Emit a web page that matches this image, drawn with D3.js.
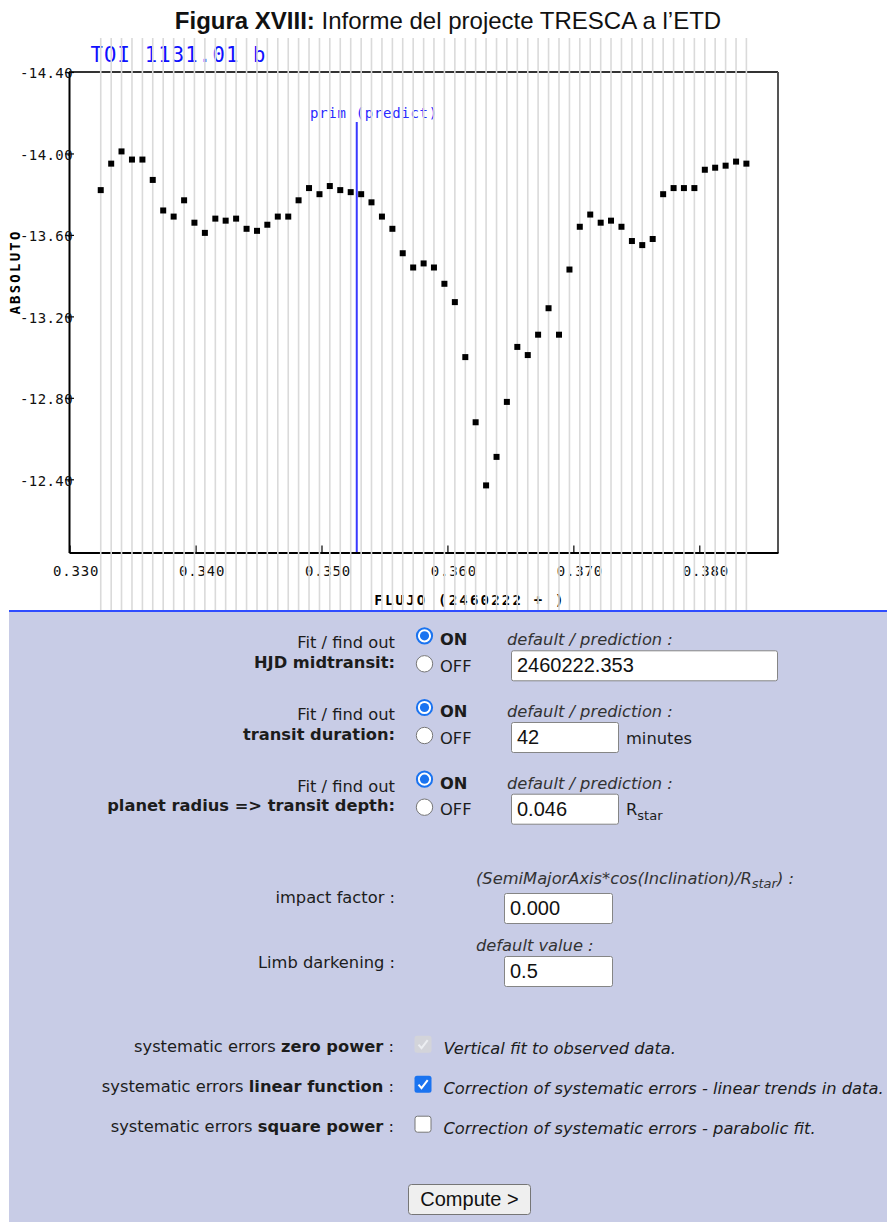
<!DOCTYPE html>
<html>
<head>
<meta charset="utf-8">
<script src="https://cdn.jsdelivr.net/npm/d3@7"></script>
<style>
  body { margin: 0; background: #fff; }
</style>
</head>
<body>
<div id="chart"></div>
<script>
// temps (HJD - 2460222) i magnitud de cada punt
const flujo = [0.33247, 0.33330, 0.33412, 0.33495, 0.33578, 0.33660, 0.33743, 0.33826, 0.33909, 0.33991,
  0.34074, 0.34157, 0.34239, 0.34322, 0.34405, 0.34488, 0.34570, 0.34653, 0.34736, 0.34818,
  0.34901, 0.34984, 0.35066, 0.35149, 0.35232, 0.35315, 0.35397, 0.35480, 0.35563, 0.35645,
  0.35728, 0.35811, 0.35893, 0.35976, 0.36059, 0.36142, 0.36224, 0.36307, 0.36390, 0.36472,
  0.36555, 0.36638, 0.36720, 0.36803, 0.36886, 0.36969, 0.37051, 0.37134, 0.37217, 0.37299,
  0.37382, 0.37465, 0.37547, 0.37630, 0.37713, 0.37796, 0.37878, 0.37961, 0.38044, 0.38126,
  0.38209, 0.38292, 0.38374];
const absoluto = [-13.82, -13.95, -14.01, -13.97, -13.97, -13.87, -13.72, -13.69, -13.77, -13.66,
  -13.61, -13.68, -13.67, -13.68, -13.63, -13.62, -13.65, -13.69, -13.69, -13.77,
  -13.83, -13.80, -13.84, -13.82, -13.81, -13.80, -13.76, -13.69, -13.63, -13.51,
  -13.44, -13.46, -13.44, -13.36, -13.27, -13.00, -12.68, -12.37, -12.51, -12.78,
  -13.05, -13.01, -13.11, -13.24, -13.11, -13.43, -13.64, -13.70, -13.66, -13.67,
  -13.64, -13.57, -13.55, -13.58, -13.80, -13.83, -13.83, -13.83, -13.92, -13.93,
  -13.94, -13.96, -13.95];
const xTicks = [0.33, 0.34, 0.35, 0.36, 0.37, 0.38];
const yTicks = [-14.4, -14.0, -13.6, -13.2, -12.8, -12.4];
const prediccio = 0.3528;

// textos del formulari
const campsEtiqueta = ['HJD midtransit:', 'transit duration:', 'planet radius => transit depth:'];
const campsValor = ['2460222.353', '42', '0.046'];
const campsUnitat = ['', 'minutes', 'R'];
const errorsNom = ['zero power', 'linear function', 'square power'];
const errorsText = ['Vertical fit to observed data.',
  'Correction of systematic errors - linear trends in data.',
  'Correction of systematic errors - parabolic fit.'];
const errorsEstat = ['disabled', 'on', 'off'];

const W = 887, H = 1222;
const mono = 'DejaVu Sans Mono, monospace';
const sans = 'DejaVu Sans, Verdana, sans-serif';
const arial = 'Liberation Sans, Arial, sans-serif';

const svg = d3.select('#chart').append('svg')
  .attr('width', W)
  .attr('height', H);

// escales
const x = d3.scaleLinear().domain([0.32995, 0.38625]).range([69, 778]);
const y = d3.scaleLinear().domain([-14.4, -12.04]).range([72, 552.6]);

// titol
const titol = svg.append('text')
  .attr('x', 448).attr('y', 29)
  .attr('text-anchor', 'middle')
  .style('font-family', arial)
  .style('font-size', '24px')
  .attr('fill', '#111');
titol.append('tspan').style('font-weight', 'bold').text('Figura XVIII:');
titol.append('tspan').text(' Informe del projecte TRESCA a l’ETD');

// marc
svg.append('line').attr('x1', 69).attr('x2', 778).attr('y1', 72).attr('y2', 72)
  .attr('stroke', '#333').attr('stroke-width', 2);
svg.append('line').attr('x1', 778).attr('x2', 778).attr('y1', 72).attr('y2', 553)
  .attr('stroke', '#555').attr('stroke-width', 2);

// eix Y
const gy = svg.append('g').attr('transform', 'translate(69,0)')
  .call(d3.axisLeft(y).tickValues(yTicks).tickFormat(d => d.toFixed(2)).tickSizeInner(4).tickSizeOuter(0));
gy.select('.domain').attr('stroke', '#000').attr('stroke-width', 2);
gy.selectAll('.tick line').attr('x1', 5).attr('stroke', '#000').attr('stroke-width', 1.2);
gy.selectAll('.tick text').attr('x', 4).attr('dy', '0.42em')
  .style('font-family', mono).style('font-size', '14px').style('letter-spacing', '0.4px').attr('fill', '#111');

// eix X
const gx = svg.append('g').attr('transform', 'translate(0,552.6)')
  .call(d3.axisBottom(x).tickValues(xTicks).tickFormat(d => d.toFixed(3)).tickSizeInner(-7).tickSizeOuter(0));
gx.select('.domain').attr('stroke', '#000').attr('stroke-width', 2);
gx.selectAll('.tick line').attr('stroke', '#000').attr('stroke-width', 1.2);
gx.selectAll('.tick text').attr('y', 13.5).attr('dx', 6)
  .style('font-family', mono).style('font-size', '14px').style('letter-spacing', '0.8px').attr('fill', '#111');

// rotuls
svg.append('text')
  .attr('transform', 'translate(20,272) rotate(-90)')
  .attr('text-anchor', 'middle')
  .style('font-family', mono).style('font-size', '14px').style('font-weight', 'bold')
  .style('letter-spacing', '2.2px')
  .text('ABSOLUTO');
svg.append('text')
  .attr('x', 470).attr('y', 605)
  .attr('text-anchor', 'middle')
  .style('font-family', mono).style('font-size', '14px').style('font-weight', 'bold')
  .style('letter-spacing', '2.2px')
  .text('FLUJO (2460222 + )');

svg.append('text')
  .attr('x', 90.5).attr('y', 62)
  .style('font-family', mono).style('font-size', '20.5px').style('letter-spacing', '1.2px')
  .attr('fill', '#1010ff')
  .text('TOI 1131.01 b');

svg.append('text')
  .attr('x', 310).attr('y', 118)
  .style('font-family', mono).style('font-size', '14px').style('letter-spacing', '0.7px')
  .attr('fill', '#2a2aff')
  .text('prim (predict)');

// linies grises de cada punt
svg.append('g').selectAll('line')
  .data(flujo)
  .enter().append('line')
  .attr('x1', d => x(d)).attr('x2', d => x(d))
  .attr('y1', 38).attr('y2', 611)
  .attr('stroke', '#dadada').attr('stroke-width', 1.6);

// prediccio
svg.append('line')
  .attr('x1', x(prediccio)).attr('x2', x(prediccio))
  .attr('y1', 122).attr('y2', 552)
  .attr('stroke', '#3a3aff').attr('stroke-width', 2);

// punts
svg.append('g').selectAll('rect')
  .data(flujo)
  .enter().append('rect')
  .attr('x', d => x(d) - 3)
  .attr('y', (d, i) => y(absoluto[i]) - 3)
  .attr('width', 6).attr('height', 6)
  .attr('fill', '#000');

// ---------- formulari ----------
svg.append('rect').attr('x', 9).attr('y', 612).attr('width', W - 9).attr('height', H - 612)
  .attr('fill', '#c8cce6');
svg.append('line').attr('x1', 9).attr('x2', W).attr('y1', 611).attr('y2', 611)
  .attr('stroke', '#2f4cff').attr('stroke-width', 2);

const form = svg.append('g').style('font-family', sans).style('font-size', '16.3px').attr('fill', '#1c1c1c');

function radio(cx, cy, on) {
  if (on) {
    form.append('circle').attr('cx', cx).attr('cy', cy).attr('r', 7.6).attr('fill', '#fff')
      .attr('stroke', '#1a73f0').attr('stroke-width', 2);
    form.append('circle').attr('cx', cx).attr('cy', cy).attr('r', 4.6).attr('fill', '#1a73f0');
  } else {
    form.append('circle').attr('cx', cx).attr('cy', cy).attr('r', 8.2).attr('fill', '#fff')
      .attr('stroke', '#777').attr('stroke-width', 1);
  }
}

function caixa(bx, by, w, h, valor) {
  form.append('rect').attr('x', bx + 0.5).attr('y', by + 0.5).attr('width', w).attr('height', h)
    .attr('rx', 2).attr('fill', '#fff').attr('stroke', '#858585');
  form.append('text').attr('x', bx + 6).attr('y', by + 22)
    .style('font-family', arial).style('font-size', '20px').attr('fill', '#111')
    .text(valor);
}

campsEtiqueta.forEach((etiq, i) => {
  const y0 = 648.3 + i * 71.7;
  form.append('text').attr('x', 395).attr('y', y0).attr('text-anchor', 'end').text('Fit / find out');
  form.append('text').attr('x', 395).attr('y', y0 + 19.5).attr('text-anchor', 'end')
    .style('font-weight', 'bold').text(etiq);
  radio(424.5, y0 - 12.5, true);
  radio(424.5, y0 + 15.5, false);
  form.append('text').attr('x', 440).attr('y', y0 - 3).style('font-weight', 'bold').text('ON');
  form.append('text').attr('x', 440).attr('y', y0 + 23.5).text('OFF');
  form.append('text').attr('x', 507).attr('y', y0 - 3).style('font-style', 'italic').attr('fill', '#333')
    .text('default / prediction :');
  caixa(511, y0 + 2, i === 0 ? 266 : 107, 30, campsValor[i]);
  if (campsUnitat[i] === 'R') {
    const t = form.append('text').attr('x', 626).attr('y', y0 + 23.5);
    t.append('tspan').text('R');
    t.append('tspan').attr('dy', 5).style('font-size', '13px').text('star');
  } else if (campsUnitat[i]) {
    form.append('text').attr('x', 626).attr('y', y0 + 23.5).text(campsUnitat[i]);
  }
});

// impact factor
const imp = form.append('text').attr('x', 476).attr('y', 884).style('font-style', 'italic').attr('fill', '#333');
imp.append('tspan').text('(SemiMajorAxis*cos(Inclination)/R');
imp.append('tspan').attr('dy', 4).style('font-size', '13px').text('star');
imp.append('tspan').attr('dy', -4).text(') :');
form.append('text').attr('x', 395).attr('y', 903).attr('text-anchor', 'end').text('impact factor :');
caixa(504, 893, 108, 30, '0.000');

// limb darkening
form.append('text').attr('x', 476).attr('y', 951).style('font-style', 'italic').attr('fill', '#333')
  .text('default value :');
form.append('text').attr('x', 395).attr('y', 968).attr('text-anchor', 'end').text('Limb darkening :');
caixa(504, 956, 108, 30, '0.5');

// errors sistematics
errorsNom.forEach((nom, i) => {
  const yb = 1051.7 + i * 40;
  const t = form.append('text').attr('x', 394).attr('y', yb).attr('text-anchor', 'end');
  t.append('tspan').text('systematic errors ');
  t.append('tspan').style('font-weight', 'bold').text(nom);
  t.append('tspan').text(' :');
  const bx = 414.5, by = yb - 16;
  if (errorsEstat[i] === 'off') {
    form.append('rect').attr('x', bx + 0.5).attr('y', by + 0.5).attr('width', 16).attr('height', 16)
      .attr('rx', 2.5).attr('fill', '#fff').attr('stroke', '#777');
  } else {
    const c = errorsEstat[i] === 'on' ? '#1a73f0' : '#d3d4da';
    form.append('rect').attr('x', bx).attr('y', by).attr('width', 17).attr('height', 17)
      .attr('rx', 2.5).attr('fill', c);
    form.append('path')
      .attr('d', `M${bx + 4},${by + 9} L${bx + 7},${by + 12.4} L${bx + 13.2},${by + 4.5}`)
      .attr('fill', 'none').attr('stroke', errorsEstat[i] === 'on' ? '#fff' : '#eceef2').attr('stroke-width', 2);
  }
  form.append('text').attr('x', 443.5).attr('y', yb + 2.3).style('font-style', 'italic')
    .text(errorsText[i]);
});

// boto
form.append('rect').attr('x', 408.5).attr('y', 1184.5).attr('width', 122).attr('height', 30)
  .attr('rx', 3).attr('fill', '#efefef').attr('stroke', '#767676');
form.append('text').attr('x', 469.5).attr('y', 1206).attr('text-anchor', 'middle')
  .style('font-family', arial).style('font-size', '20px').attr('fill', '#111')
  .text('Compute >');
</script>
</body>
</html>
